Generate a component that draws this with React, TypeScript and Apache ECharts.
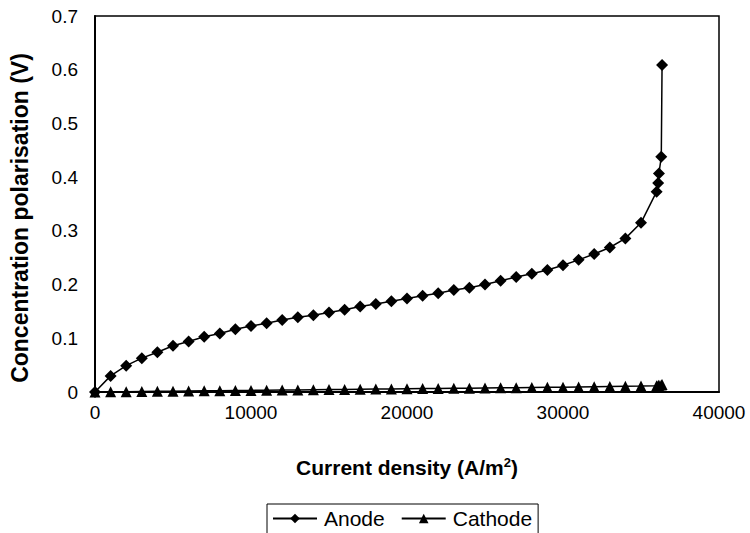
import React, { useEffect, useRef } from "react";
import * as echarts from "echarts";

const currentDensity = [
  0, 1000, 2000, 3000, 4000, 5000, 6000, 7000, 8000, 9000, 10000, 11000, 12000, 13000, 14000, 15000,
  16000, 17000, 18000, 19000, 20000, 21000, 22000, 23000, 24000, 25000, 26000, 27000, 28000, 29000,
  30000, 31000, 32000, 33000, 34000, 35000, 36000, 36100, 36150, 36300, 36350,
];
const anode = [
  0, 0.03, 0.049, 0.063, 0.074, 0.086, 0.094, 0.103, 0.109, 0.117, 0.123, 0.128, 0.134, 0.139, 0.143,
  0.148, 0.153, 0.159, 0.164, 0.169, 0.174, 0.179, 0.184, 0.19, 0.194, 0.2, 0.207, 0.214, 0.22, 0.227,
  0.236, 0.246, 0.257, 0.269, 0.286, 0.315, 0.373, 0.389, 0.407, 0.438, 0.609,
];
const cathode = [
  0, 0.0003, 0.0006, 0.0009, 0.0012, 0.0015, 0.0018, 0.0021, 0.0024, 0.0027, 0.003, 0.0033, 0.0036,
  0.0039, 0.0042, 0.0045, 0.0048, 0.0051, 0.0054, 0.0057, 0.006, 0.0063, 0.0066, 0.0069, 0.0072, 0.0075,
  0.0078, 0.0081, 0.0084, 0.0087, 0.009, 0.0094, 0.0098, 0.0102, 0.0106, 0.011, 0.0115, 0.012, 0.0125,
  0.013, 0.014,
];
const seriesNames = ["Anode", "Cathode"];
const xTitle = "Current density (A/m{sup|2})";
const yTitle = "Concentration polarisation (V)";

const FONT = "'Liberation Sans', Arial, Helvetica, sans-serif";

export default function App() {
  const ref = useRef<HTMLDivElement>(null);
  useEffect(() => {
    if (!ref.current) return;
    const chart = echarts.init(ref.current, null, { renderer: "svg" });
    const pts = (vals: number[]) => currentDensity.map((x, i) => [x, vals[i]]);
    chart.setOption({
      animation: false,
      backgroundColor: "#fff",
      textStyle: { fontFamily: FONT, color: "#000" },
      grid: {
        left: 87,
        top: 16,
        right: 31,
        bottom: 141,
        show: true,
        borderColor: "#000",
        borderWidth: 1.5,
        containLabel: false,
      },
      xAxis: {
        type: "value",
        min: 0,
        max: 40000,
        interval: 10000,
        name: xTitle,
        nameLocation: "middle",
        nameGap: 64,
        nameTextStyle: {
          fontFamily: FONT,
          fontSize: 21,
          fontWeight: "bold",
          color: "#000",
          rich: { sup: { fontSize: 13, fontWeight: "bold", verticalAlign: "top", padding: [0, 0, 10, 0] } },
        },
        axisLine: { show: true, lineStyle: { color: "#000", width: 2 } },
        axisTick: { show: false },
        splitLine: { show: false },
        axisLabel: {
          fontFamily: FONT,
          fontSize: 19,
          color: "#000",
          margin: 11,
          formatter: (v: number) => String(v),
        },
      },
      yAxis: {
        type: "value",
        min: 0,
        max: 0.7,
        interval: 0.1,
        name: yTitle,
        nameLocation: "middle",
        nameGap: 64,
        nameTextStyle: {
          fontFamily: FONT,
          fontSize: 23,
          fontWeight: "bold",
          color: "#000",
          padding: [0, 28, 0, 0],
        },
        axisLine: { show: true, lineStyle: { color: "#000", width: 2 } },
        axisTick: { show: false },
        splitLine: { show: false },
        axisLabel: {
          fontFamily: FONT,
          fontSize: 19,
          color: "#000",
          margin: 17,
          formatter: (v: number) => (v === 0 ? "0" : v.toFixed(1)),
        },
      },
      legend: {
        top: 504,
        left: 267,
        itemGap: 16,
        itemWidth: 44,
        itemHeight: 12,
        padding: [4, 6, 12, 5],
        borderColor: "#000",
        borderWidth: 1,
        borderRadius: 0,
        textStyle: { fontFamily: FONT, fontSize: 21, color: "#000", padding: [0, 0, 0, 2] },
        data: seriesNames,
      },
      series: [
        {
          name: seriesNames[0],
          type: "line",
          data: pts(anode),
          symbol: "diamond",
          symbolSize: 12,
          lineStyle: { color: "#000", width: 1.5 },
          itemStyle: { color: "#000" },
        },
        {
          name: seriesNames[1],
          type: "line",
          data: pts(cathode),
          symbol: "triangle",
          symbolSize: 11,
          lineStyle: { color: "#000", width: 1.5 },
          itemStyle: { color: "#000" },
        },
      ],
    });
    return () => chart.dispose();
  }, []);
  return <div ref={ref} style={{ width: 750, height: 533, position: "absolute", left: 0, top: 0 }} />;
}
